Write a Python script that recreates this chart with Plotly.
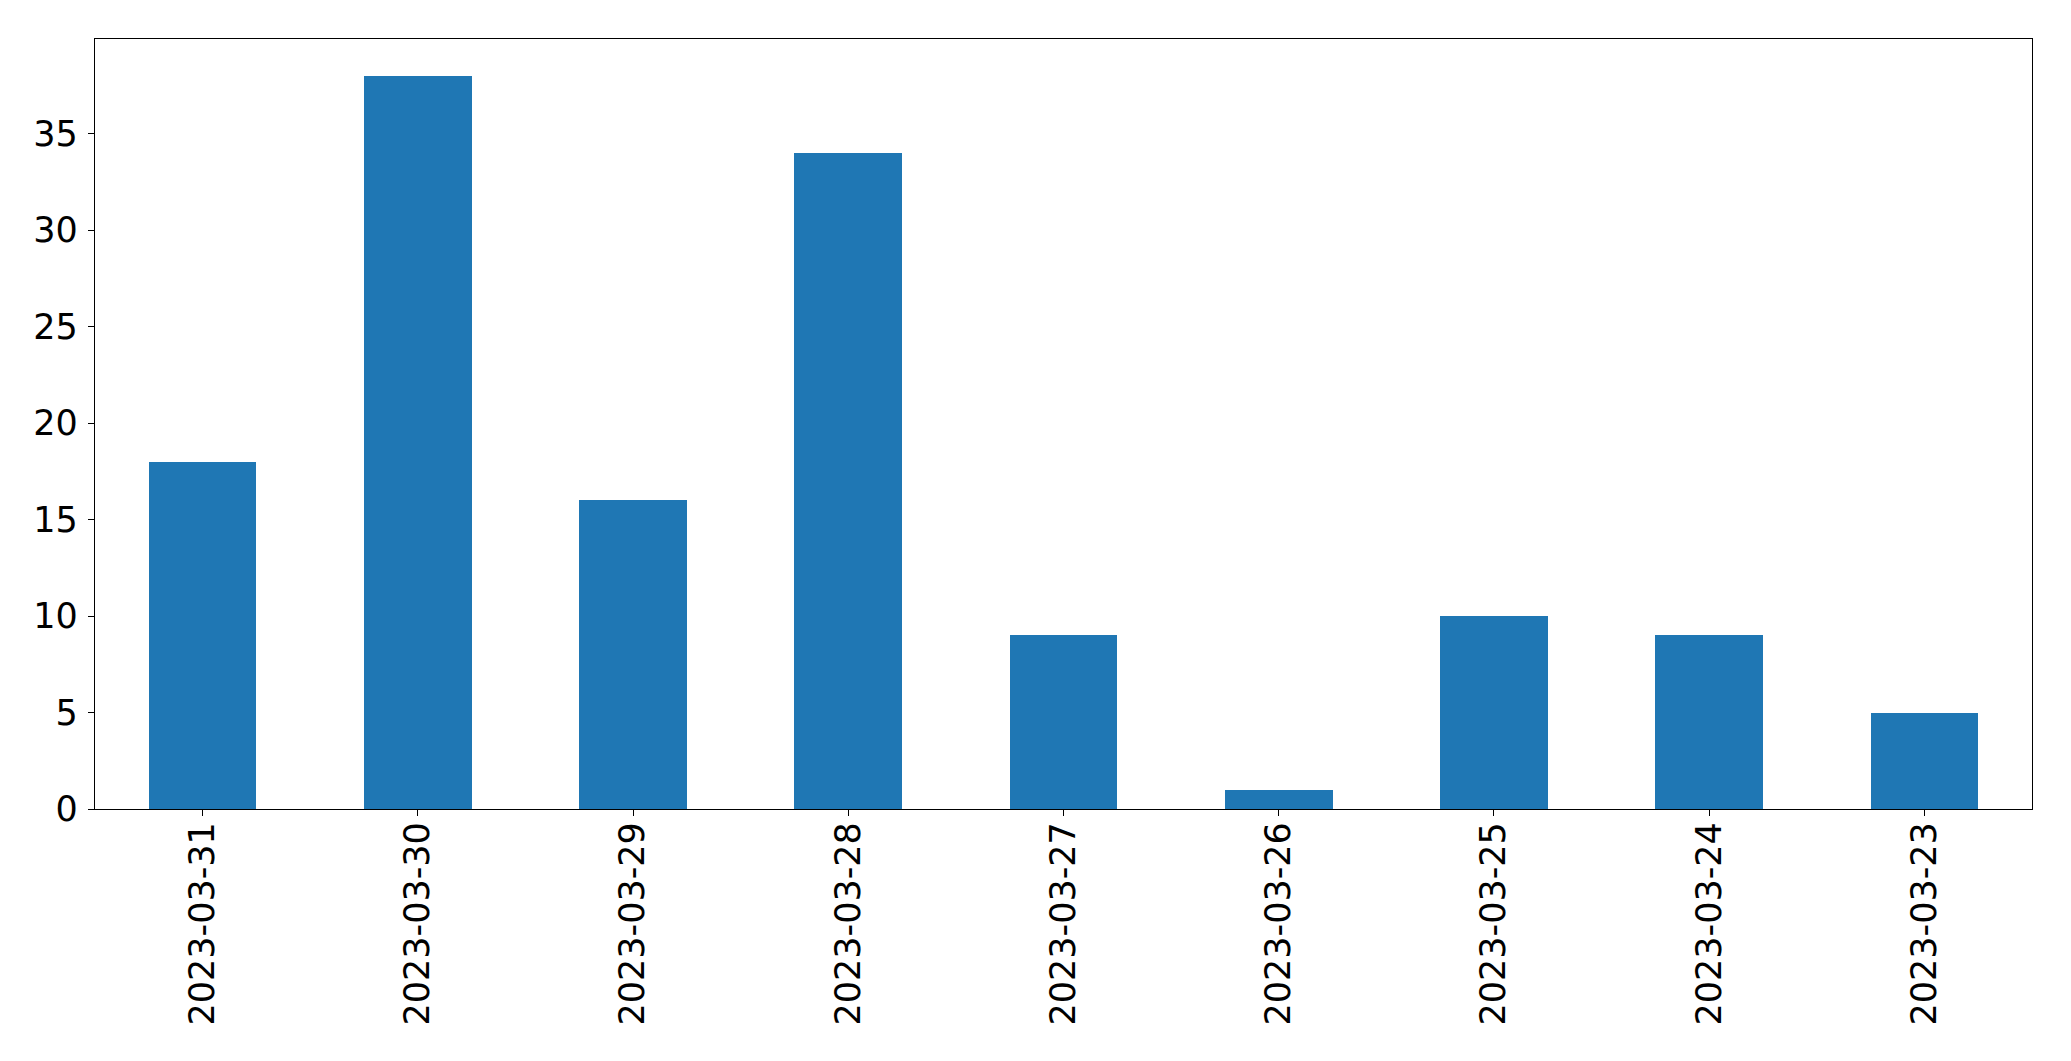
import plotly.graph_objects as go

dates = ["2023-03-31", "2023-03-30", "2023-03-29", "2023-03-28", "2023-03-27",
         "2023-03-26", "2023-03-25", "2023-03-24", "2023-03-23"]
counts = [18, 38, 16, 34, 9, 1, 10, 9, 5]
y_ticks = [0, 5, 10, 15, 20, 25, 30, 35]

fig = go.Figure(go.Bar(x=dates, y=counts, width=0.5, marker=dict(color="#1f77b4", line=dict(width=0))))

font = dict(family="DejaVu Sans", size=35, color="black")
# page body has an 8px default margin; compensate so the plot area lands at
# x 95..2032, y 39..809 in the window
fig.update_layout(
    width=2071, height=1061, autosize=False,
    margin=dict(l=87, r=47, t=31, b=260, pad=0),
    plot_bgcolor="white", paper_bgcolor="white",
    showlegend=False, bargap=0,
    font=font,
)
fig.update_xaxes(
    type="category", range=[-0.5, len(dates) - 0.5], automargin=False,
    showline=True, linecolor="black", linewidth=1.3, mirror=True,
    ticks="outside", ticklen=6, tickwidth=1.3, tickcolor="black",
    tickangle=-90, tickfont=font, showgrid=False, zeroline=False,
    ticklabelstandoff=-8,
)
fig.update_yaxes(
    range=[0, max(counts) * 1.05], tickvals=y_ticks, automargin=False,
    showline=True, linecolor="black", linewidth=1.3, mirror=True,
    ticks="outside", ticklen=6, tickwidth=1.3, tickcolor="black",
    tickfont=font, showgrid=False, zeroline=False,
    ticklabelstandoff=3,
)
fig.write_html("out.html")
